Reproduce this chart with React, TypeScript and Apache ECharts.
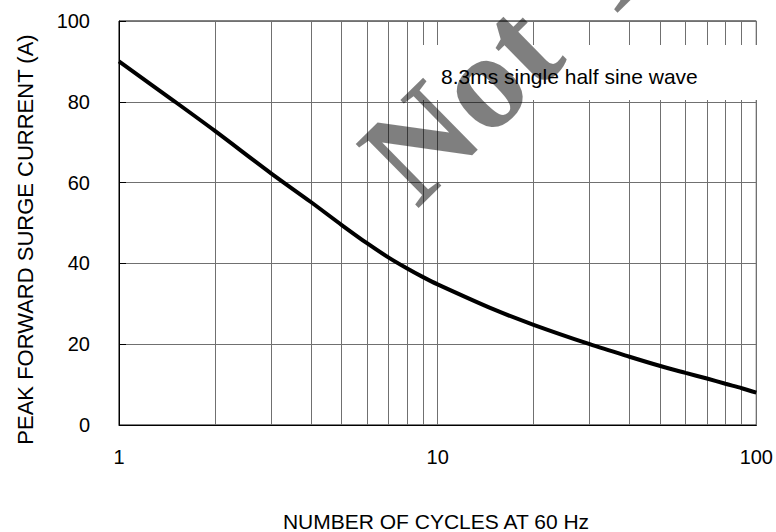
import React, { useEffect, useRef } from "react";
import * as echarts from "echarts";

const cycles = [1, 1.5, 2, 3, 4, 5, 6, 7, 8, 9, 10, 15, 20, 30, 40, 50, 60, 70, 80, 90, 100];
const surgeCurrent = [90, 80, 72.8, 62.3, 55.2, 49.5, 45, 41.5, 38.8, 36.6, 34.8, 28.6, 24.8, 20, 16.9, 14.6, 12.9, 11.5, 10.2, 9.1, 8.0];
const minorGridX = [2, 3, 4, 5, 6, 7, 8, 9, 20, 30, 40, 50, 60, 70, 80, 90];
const yTicks = { min: 0, max: 100, interval: 20 };
const xTitle = "NUMBER OF CYCLES AT 60 Hz";
const yTitle = "PEAK FORWARD SURGE CURRENT (A)";
const noteText = "8.3ms single half sine wave";
const watermarkWords = ["Not", "Recommended"];

const SANS = "'Liberation Sans', Arial, sans-serif";
const SERIF = "'Liberation Serif', 'Times New Roman', serif";

export default function App() {
  const ref = useRef<HTMLDivElement>(null);
  useEffect(() => {
    if (!ref.current) return;
    const chart = echarts.init(ref.current, null, { renderer: "svg" });
    const gridColor = "#707070";
    const deg = 44.5;
    const wmAngle = (deg * Math.PI) / 180;
    const wmSize = 137;
    const ax = 384.6;
    const ay = 177.0;
    const dx = Math.cos(wmAngle);
    const dy = -Math.sin(wmAngle);
    const wordGap = 278;
    const wmStyle = (text: string) => ({
      text,
      fill: "rgba(0,0,0,0.5)",
      font: `bold ${wmSize}px ${SERIF}`,
      align: "left",
      verticalAlign: "middle",
    });
    chart.setOption({
      animation: false,
      backgroundColor: "#fff",
      grid: {
        left: 119,
        right: 16,
        top: 21,
        bottom: 107,
        show: true,
        borderColor: "#000",
        borderWidth: 1,
        backgroundColor: "transparent",
      },
      xAxis: {
        type: "log",
        logBase: 10,
        min: 1,
        max: 100,
        axisLine: { show: true, lineStyle: { color: "#000", width: 1 } },
        axisTick: { show: false },
        axisLabel: { color: "#000", fontSize: 20, fontFamily: SANS, margin: 22 },
        splitLine: { show: true, lineStyle: { color: gridColor, width: 1 } },
      },
      yAxis: {
        type: "value",
        min: yTicks.min,
        max: yTicks.max,
        interval: yTicks.interval,
        axisLine: { show: true, lineStyle: { color: "#000", width: 1 } },
        axisTick: { show: true, inside: true, length: 7, lineStyle: { color: "#000" } },
        axisLabel: { color: "#000", fontSize: 20, fontFamily: SANS, margin: 29 },
        splitLine: { show: true, lineStyle: { color: gridColor, width: 1 } },
      },
      series: [
        {
          type: "line",
          data: cycles.map((c, i) => [c, surgeCurrent[i]]),
          showSymbol: false,
          smooth: 0.3,
          lineStyle: { color: "#000", width: 4 },
          z: 3,
          markLine: {
            silent: true,
            symbol: "none",
            label: { show: false },
            lineStyle: { color: gridColor, width: 1, type: "solid" },
            data: minorGridX.map((v) => ({ xAxis: v })),
            z: 1,
          },
        },
      ],
      graphic: [
        {
          type: "rect",
          z: 10,
          shape: { x: 420, y: 45, width: 338, height: 55 },
          style: { fill: "#fff" },
          silent: true,
        },
        {
          type: "text",
          z: 11,
          x: ax,
          y: ay,
          rotation: wmAngle,
          silent: true,
          style: wmStyle(watermarkWords[0]),
        },
        {
          type: "text",
          z: 11,
          x: ax + wordGap * dx,
          y: ay + wordGap * dy,
          rotation: wmAngle,
          silent: true,
          style: wmStyle(watermarkWords[1]),
        },
        {
          type: "text",
          z: 12,
          x: 441,
          y: 76,
          silent: true,
          style: {
            text: noteText,
            fill: "#000",
            font: `21px ${SANS}`,
            align: "left",
            verticalAlign: "middle",
          },
        },
        {
          type: "text",
          z: 12,
          x: 436,
          y: 521,
          silent: true,
          style: {
            text: xTitle,
            fill: "#000",
            font: `21px ${SANS}`,
            align: "center",
            verticalAlign: "middle",
          },
        },
        {
          type: "text",
          z: 12,
          x: 25.5,
          y: 239.5,
          rotation: Math.PI / 2,
          silent: true,
          style: {
            text: yTitle,
            fill: "#000",
            font: `22px ${SANS}`,
            align: "center",
            verticalAlign: "middle",
          },
        },
      ],
    });
    return () => chart.dispose();
  }, []);
  return (
    <div
      ref={ref}
      style={{ position: "fixed", left: 0, top: 0, width: 776, height: 532, background: "#fff" }}
    />
  );
}
